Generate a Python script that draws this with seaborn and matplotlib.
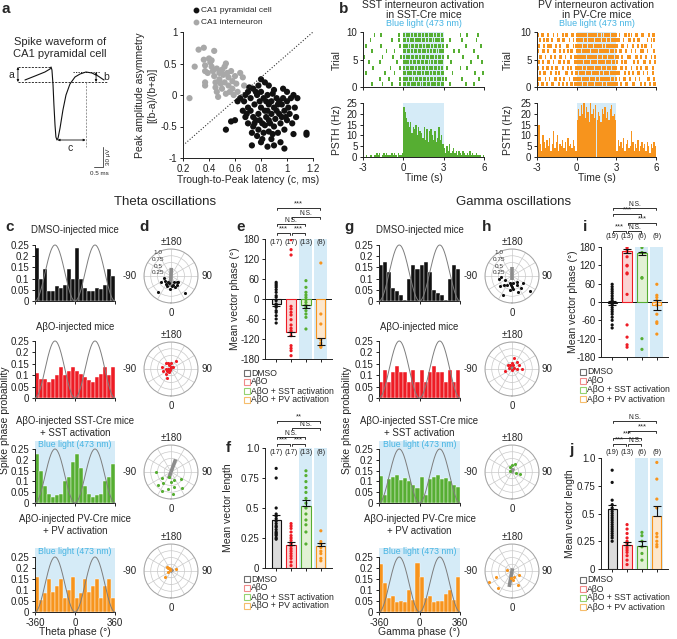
import numpy as np
import pandas as pd
import matplotlib
matplotlib.use("Agg")
import matplotlib.pyplot as plt
import matplotlib.lines as mlines
from matplotlib.transforms import blended_transform_factory
import seaborn as sns

# ---------------------------------------------------------------------
# datos
# ---------------------------------------------------------------------
# panel a: forma de onda (ms, uV)
WAVE_T = [-1.78, -1.22, -0.67, -0.39, -0.33, -0.28, -0.22, -0.17, -0.11, -0.06, 0.0,
          0.06, 0.17, 0.33, 0.5, 0.72, 1.0, 1.28, 1.61, 1.94, 2.28, 2.61]
WAVE_V = [3, 9, 15, 19.5, 22.5, 18, -4.5, -34.5, -64.5, -82.5, -87,
          -84, -69, -42, -19.5, -3, 7.5, 12, 15, 13.5, 9, 3]

# panel a: dispersion
INTER_X = [0.25, 0.29, 0.32, 0.36, 0.36, 0.37, 0.37, 0.37, 0.37, 0.40, 0.41, 0.42, 0.43, 0.44,
           0.44, 0.45, 0.45, 0.46, 0.46, 0.47, 0.48, 0.49, 0.50, 0.50, 0.51, 0.52, 0.52, 0.53,
           0.54, 0.55, 0.55, 0.56, 0.57, 0.58, 0.58, 0.59, 0.60, 0.61, 0.62, 0.64, 0.66, 0.67,
           0.42, 0.39, 0.48, 0.53]
INTER_Y = [-0.05, 0.45, 0.72, 0.75, 0.56, 0.47, 0.38, 0.20, 0.15, 0.58, 0.52, 0.45, 0.38, 0.70,
           0.30, 0.20, 0.12, 0.42, 0.05, -0.03, 0.25, 0.18, 0.40, 0.10, 0.32, 0.45, 0.20, 0.02,
           0.35, 0.15, 0.28, 0.05, 0.38, 0.22, 0.10, 0.00, 0.30, 0.18, 0.05, 0.35, 0.28, 0.15,
           0.55, 0.35, 0.35, 0.50]
PYR_X = [0.53, 0.57, 0.73, 0.80, 0.85, 0.90, 0.98, 1.15, 1.15, 1.05, 0.95, 0.88,
         0.80, 0.83, 0.78, 0.86, 0.97, 1.00, 0.74, 0.70, 0.68, 0.90, 1.05, 1.08, 1.06, 1.07,
         1.04, 1.00, 0.98, 0.93, 0.90, 0.86, 0.82, 0.78, 0.74, 0.70, 0.68, 0.66, 0.67, 0.72,
         0.75, 0.78, 0.76, 0.80, 0.82, 0.84, 0.86, 0.88, 0.90, 0.92, 0.94, 0.96, 0.98, 1.00,
         1.02, 0.72, 0.74, 0.77, 0.79, 0.81, 0.83, 0.85, 0.87, 0.89, 0.91, 0.93, 0.95, 0.97,
         0.99, 1.01, 1.03, 0.70, 0.69, 0.73, 0.77, 0.81, 0.84, 0.86, 0.88, 0.92, 0.94, 0.96,
         0.75, 0.79, 0.83, 0.85, 0.89, 0.80, 0.76, 0.71, 0.64, 0.62, 0.60]
PYR_Y = [-0.55, -0.42, -0.80, -0.75, -0.82, -0.80, -0.85, -0.60, -0.63, -0.62, -0.75, -0.70,
         0.25, 0.20, 0.15, 0.15, 0.10, 0.05, 0.10, 0.05, 0.00, 0.08, 0.00, -0.05, -0.20, -0.35,
         -0.45, -0.40, -0.55, -0.60, -0.50, -0.58, -0.60, -0.55, -0.50, -0.45, -0.35, -0.25,
         -0.10, -0.05, -0.15, -0.30, -0.40, -0.20, -0.05, -0.35, -0.15, -0.30, -0.20, -0.05,
         -0.30, -0.15, -0.25, -0.10, -0.30, -0.25, -0.35, 0.00, -0.10, -0.45, -0.25, 0.00,
         -0.45, 0.02, -0.38, -0.15, -0.45, -0.05, -0.35, -0.20, -0.05, -0.20, -0.30, -0.60,
         -0.65, -0.70, -0.10, -0.40, -0.10, -0.25, -0.10, -0.35, -0.45, -0.40, -0.48, -0.25,
         -0.62, 0.05, 0.05, 0.12, -0.05, -0.10, -0.40]
DIAG_X = [0.2, 1.2]
DIAG_Y = [-0.8, 1.0]

# panel b: raster (cada caracter = 0.1 s desde -3 s) y PSTH (Hz)
SST_RASTER = [
    "......|... ....|..... .|.....|.. ||.||.|||. ||.|.||.|| .|||.||.|| ....|..... ......|... ..|.......",
    ".......... ..|......| .......|.. |||.||.|.| |.||.||.|. ||.|.|||.| .|........ ...|...... ......|...",
    "..|....... ......|... ...|...... ||.|||.||. |||.|.|||. |.||.||.|| ......|... .......... ...|.....|",
    ".......|.. .......... |......|.. |.||.|||.| .||.||.|.| ||.||.|.|. ..|....... ..|....|.. ..........",
    "....|..... ..|....... .....|.... ||||.|.||. ||.||.||.| .|.||.|||. .....|.... .......... |.......|.",
    "|......... ....|..... ..|.....|. |.|||.||.| |.|.||.||. |||.|.||.| ...|...... ....|..... .....|....",
    "......|... .......|.. ...|...... ||.||.|.|| .||.|||.|. |.||.|.||| .......|.. .|........ ..|.......",
    "..|....... ...|...... .......|.. |||.|.||.| |.||.|.||| .|.||.||.| ..|....... ......|... .......|..",
    ".....|.... .......... .|....|... ||.|.|||.| |||.||.|.| |.|.|||.|| ....|..... ...|...... ....|.....",
    "........|. ...|...... ......|... |.|||.|.|| .||.|.||.| ||.|.||.|. .......... ..|....|.. .....|....",
]
PV_RASTER = [
    "|..||..|.. .||...|..| ..|..||.|. ||||.|||.| |||.|||||. ||.||||.|| |..|...||. ..||....|. .|...|..||",
    ".||...|..| ...||..|.. |...|..||. |||.|||||. ||||.||.|| |||||.||.| ..|..||... |...|..|.. ...||...|.",
    "..|..||... |...|.|... .||...|..| |.||||.||| |.|||||.|| .|||.||||| .||...|..| ..|...||.. |..|...|..",
    "|...|..||. .|..||...| ...|.|...| ||||.||.|| |||.||||.| ||.|||.||| ...||..|.. .|...|..|. ..||...|..",
    ".|..|...|| ..|...||.. |..||...|. |||||.|||| .||||.|||| |.||||.||. |...|.||.. ...|..|... ||...|...|",
    "..||..|... |..|...||. .|...|..|| ||.||||.|| |||||.|||. |||.||||.| .|..|...|| |...||..|. ..|...|..|",
    "|...||..|. ..||...|.. |..|.||... |||.|||||| .|||||.||| ||||.|||.| ..||...|.. .|..|...|| |..|....|.",
    ".|...|..|| |...|..|.. ..||...|.| ||||.|||.| ||.||||||. |.|||||.|| |...||..|. ..|...|..| .||...|...",
    "..|..|.||. .|...||..| |...|..|.. |||||.||.| |||.||||.| ||.||.|||| .||..|...| |..|..||.. ...|..|.|.",
    "|..||...|. ..|..|...| .||...||.. ||.|||||.| |||||.||.| .||||.|||| ..|...||.| .|..||...| |...|..||.",
]
SST_PSTH = [0, 0, 1, 0, 0, 1, 1, 0, 1, 1, 2, 1, 2, 0, 1, 2, 1, 2, 1, 1, 1, 2, 1, 2, 1, 0, 2, 1, 1, 2,
            23, 21, 18, 16, 14, 16, 11, 14, 13, 15, 10, 14, 12, 11, 9, 14, 8, 13, 7, 12,
            13, 10, 8, 12, 7, 9, 14, 8, 10, 6,
            4, 2, 5, 3, 6, 2, 3, 4, 2, 3, 1, 3, 2, 1, 3, 2, 1, 2, 1, 3, 1, 2, 1, 1, 2, 1, 1, 1, 0, 1]
PV_PSTH = [5, 15, 6, 3, 10, 7, 4, 8, 5, 9, 3, 6, 12, 4, 7, 10, 3, 6, 5, 8, 4, 7, 3, 9, 5, 6, 4, 8, 5, 3,
           17, 22, 19, 24, 20, 25, 18, 23, 21, 16, 25, 20, 22, 18, 24, 17, 21, 19, 16, 22,
           20, 23, 18, 21, 17, 22, 24, 19, 20, 17,
           3, 8, 5, 7, 4, 9, 3, 6, 8, 4, 5, 12, 7, 3, 6, 4, 8, 3, 5, 7, 4, 6, 3, 7, 5, 2, 6, 4, 7, 5]

# paneles c/g: probabilidad de fase (20 bins de 36 grados, -360..360)
THETA_HIST = [
    [0.235, 0.10, 0.145, 0.045, 0.045, 0.065, 0.06, 0.07, 0.145, 0.10,
     0.235, 0.10, 0.06, 0.045, 0.045, 0.06, 0.055, 0.07, 0.145, 0.11],
    [0.11, 0.085, 0.085, 0.07, 0.085, 0.10, 0.135, 0.10, 0.12, 0.135,
     0.12, 0.105, 0.09, 0.08, 0.07, 0.09, 0.105, 0.135, 0.10, 0.135],
    [0.225, 0.15, 0.08, 0.04, 0.03, 0.035, 0.04, 0.10, 0.12, 0.19,
     0.225, 0.16, 0.08, 0.04, 0.03, 0.035, 0.04, 0.10, 0.12, 0.18],
    [0.16, 0.055, 0.085, 0.15, 0.09, 0.12, 0.15, 0.065, 0.10, 0.16,
     0.065, 0.085, 0.15, 0.09, 0.12, 0.15, 0.065, 0.12, 0.15, 0.065],
]
GAMMA_HIST = [
    [0.16, 0.175, 0.13, 0.06, 0.045, 0.025, 0.005, 0.10, 0.16, 0.145,
     0.16, 0.175, 0.13, 0.05, 0.035, 0.025, 0.005, 0.10, 0.16, 0.145],
    [0.07, 0.125, 0.07, 0.115, 0.14, 0.115, 0.115, 0.07, 0.125, 0.07,
     0.125, 0.07, 0.115, 0.14, 0.115, 0.115, 0.07, 0.125, 0.07, 0.125],
    [0.125, 0.035, 0.11, 0.12, 0.13, 0.105, 0.115, 0.10, 0.085, 0.07,
     0.12, 0.035, 0.11, 0.12, 0.13, 0.11, 0.115, 0.10, 0.085, 0.075],
    [0.22, 0.13, 0.065, 0.075, 0.045, 0.05, 0.045, 0.10, 0.055, 0.225,
     0.16, 0.065, 0.075, 0.045, 0.05, 0.05, 0.08, 0.10, 0.055, 0.16],
]

# paneles d-f: theta, fase (grados) y longitud del vector por neurona
THETA_PHASE = [
    [50, 45, 40, 35, 28, 20, 10, 5, -5, -15, -20, -25, -35, -40, -50, -60, -72],
    [178, 148, 132, -22, -40, -48, -62, -78, -88, -100, -110, -140, -148, -155, -170, -95, -30],
    [55, 35, 20, 12, 5, -2, -10, -18, -25, -35, -45, -55, -90],
    [108, -45, -75, -122, -132, -138, -142, -145],
]
THETA_LEN = [
    [0.35, 0.29, 0.83, 0.41, 0.25, 0.45, 0.32, 0.37, 0.50, 0.27, 0.39, 0.24, 0.34, 0.75, 0.30, 0.43, 0.28],
    [0.21, 0.33, 0.12, 0.37, 0.05, 0.25, 0.18, 0.30, 0.10, 0.35, 0.02, 0.27, 0.16, 0.23, 0.08, 0.20, 0.14],
    [0.45, 0.72, 0.30, 0.58, 0.81, 0.36, 0.63, 0.20, 0.77, 0.50, 0.67, 0.40, 0.54],
    [0.20, 0.31, 0.12, 0.06, 0.22, 0.17, 0.08, 0.14],
]
THETA_PHASE_MEAN = [-15, -98, -18, -118]
THETA_PHASE_ERR = [[7, 12, 10, 20], [0, 0, 0, 0]]
THETA_LEN_MEAN = [0.40, 0.19, 0.52, 0.18]
THETA_LEN_ERR = [[0, 0, 0, 0], [0.04, 0.025, 0.05, 0.03]]
THETA_GRAY = [(178, 0.30, 0.40), (150, 0.12, 0.05), (160, 0.50, 0.25), (130, 0.10, 0.05)]

# paneles h-j: gamma
GAMMA_PHASE = [
    [58, 50, 42, 35, 28, 20, 12, 5, 0, -5, -10, -18, -25, -32, -40, -50, -60, -75, -85],
    [178, 172, 165, 148, 120, 118, 95, 92, 25, -75, -115, -140, -148],
    [178, 162, 80, 78, -120, -155],
    [58, 22, 15, 5, -10, -40, -65, -70, -105],
]
GAMMA_LEN = [
    [0.46, 0.89, 0.30, 0.55, 0.36, 0.62, 0.25, 0.48, 0.40, 0.34, 0.52, 0.28, 0.78, 0.38, 0.44, 0.58, 0.32, 0.50, 0.42],
    [0.23, 0.40, 0.15, 0.32, 0.08, 0.28, 0.19, 0.36, 0.04, 0.25, 0.12, 0.21, 0.17],
    [0.25, 0.33, 0.14, 0.30, 0.08, 0.20],
    [0.29, 0.55, 0.22, 0.32, 0.25, 0.81, 0.96, 0.63, 0.20],
]
GAMMA_PHASE_MEAN = [-3, 168, 160, -10]
GAMMA_PHASE_ERR = [[7, 6, 5, 15], [7, 6, 5, 15]]
GAMMA_LEN_MEAN = [0.54, 0.22, 0.21, 0.48]
GAMMA_LEN_ERR = [[0, 0, 0, 0], [0.04, 0.025, 0.04, 0.09]]
GAMMA_GRAY = [(180, 0.35, 0.15), (180, 0.12, 0.05), (160, 0.15, 0.05), (-10, 0.60, 0.10)]

GROUPS = ["DMSO", "AβO", "AβO + SST activation", "AβO + PV activation"]
THETA_N = ["(17)", "(17)", "(13)", "(8)"]
GAMMA_N = ["(19)", "(13)", "(6)", "(9)"]

# ---------------------------------------------------------------------
# estilo
# ---------------------------------------------------------------------
NEGRO = "#111111"
ROJO = "#ee1c25"
VERDE = "#56ae32"
NARANJA = "#f7941d"
GRIS_PUNTO = "#a8a8a8"
AZUL_CLARO = "#d5ebf7"
AZUL_TEXTO = "#45b4e3"
COLORES = [NEGRO, ROJO, VERDE, NARANJA]
RELLENOS = ["#dcdcdc", "#fbd3d3", "#e2f1d5", "#fde7cc"]
BORDES_LEYENDA = ["#6e6e6e", "#f08a8a", "#94d270", "#f6bd6c"]

sns.set_theme(style="ticks")
plt.rcParams["font.family"] = ["Liberation Sans", "DejaVu Sans"]
plt.rcParams.update({
    "font.size": 7, "axes.linewidth": 0.7, "axes.edgecolor": "#222222",
    "xtick.major.width": 0.7, "ytick.major.width": 0.7,
    "xtick.major.size": 2.5, "ytick.major.size": 2.5,
    "xtick.labelsize": 7, "ytick.labelsize": 7,
    "xtick.major.pad": 1.5, "ytick.major.pad": 1.5,
    "xtick.color": "#222222", "ytick.color": "#222222",
})

W, H = 677, 639
fig = plt.figure(figsize=(W / 100, H / 100), dpi=100)


def ax_px(l, t, r, b, **kw):
    return fig.add_axes([l / W, 1 - b / H, (r - l) / W, (b - t) / H], **kw)


def txt(x, y, s, **kw):
    kw.setdefault("ha", "center")
    kw.setdefault("va", "center")
    fig.text(x / W, 1 - y / H, s, **kw)


def letra(x, y, s):
    txt(x, y, s, ha="left", fontsize=11, fontweight="bold")


def limpiar(ax):
    ax.set_xlabel("")
    ax.set_ylabel("")
    sns.despine(ax=ax)


def histograma(ax, centros, bordes, valores, color, lw=0.0):
    tabla = pd.DataFrame({"x": list(centros), "w": list(valores)})
    sns.histplot(data=tabla, x="x", weights="w", bins=[float(b) for b in bordes], color=color,
                 alpha=1, edgecolor="white", linewidth=lw, ax=ax, zorder=2)


# ---------------------------------------------------------------------
# panel a
# ---------------------------------------------------------------------
letra(2, 9, "a")
txt(60, 48, "Spike waveform of\nCA1 pyramidal cell", fontsize=8, linespacing=1.2)
ax = ax_px(10, 35, 120, 180)
ax.set_xlim(-2.61, 3.5)
ax.set_ylim(-147, 70.5)
ax.axis("off")
ax.plot(WAVE_T, WAVE_V, color=NEGRO, lw=0.8)
ax.plot([-2.17, 2.8], [0, 0], ls="--", color=NEGRO, lw=0.6, dashes=(2.5, 1.5))
ax.plot([-2.17, -0.33], [22.5, 22.5], ls="--", color=NEGRO, lw=0.6, dashes=(2.5, 1.5))
ax.plot([0.9, 2.4], [15, 15], ls="--", color=NEGRO, lw=0.6, dashes=(1.5, 1.5))
ax.plot([1.61, 1.61], [0, -97], ls="--", color="#888888", lw=0.6, dashes=(2.5, 1.5))
flecha = dict(arrowstyle="<|-|>", lw=0.6, color=NEGRO, mutation_scale=3, shrinkA=0, shrinkB=0)
ax.annotate("", xy=(-2.17, 22.5), xytext=(-2.17, 0), arrowprops=flecha)
ax.annotate("", xy=(2.17, 15), xytext=(2.17, 0), arrowprops=flecha)
ax.annotate("", xy=(0.03, -87), xytext=(1.59, -87), arrowprops=flecha)
ax.text(-2.55, 11, "a", fontsize=7.5, ha="center", va="center")
ax.text(2.72, 7, "b", fontsize=7.5, ha="center", va="center")
ax.text(0.75, -99, "c", fontsize=7.5, ha="center", va="center")
ax.plot([2.06, 2.56, 2.56], [-127.5, -127.5, -97.5], color="#555555", lw=0.7)
ax.text(2.85, -112, "30 μV", rotation=90, fontsize=4.5, ha="center", va="center")
ax.text(2.35, -133, "0.5 ms", fontsize=4.5, ha="center", va="top")

ax = ax_px(183, 32, 313, 158)
sns.scatterplot(x=INTER_X, y=INTER_Y, color=GRIS_PUNTO, s=20, edgecolor="none", ax=ax)
sns.scatterplot(x=PYR_X, y=PYR_Y, color=NEGRO, s=20, edgecolor="none", ax=ax)
ax.plot(DIAG_X, DIAG_Y, ls=":", color="#333333", lw=0.8)
ax.set_xlim(0.2, 1.2)
ax.set_ylim(-1, 1)
ax.set_xticks([0.2, 0.4, 0.6, 0.8, 1.0, 1.2], ["0.2", "0.4", "0.6", "0.8", "1", "1.2"])
ax.set_yticks([-1, -0.5, 0, 0.5, 1], ["-1", "-0.5", "0", "0.5", "1"])
limpiar(ax)
txt(248, 180, "Trough-to-Peak latency (c, ms)", fontsize=7.5)
txt(146, 95, "Peak amplitude asymmetry\n[(b-a)/(b+a)]", fontsize=7.5, rotation=90, linespacing=1.2)
for k, (lab, col) in enumerate([("CA1 pyramidal cell", NEGRO), ("CA1 interneuron", GRIS_PUNTO)]):
    yy = 10 + 12 * k
    fig.add_artist(mlines.Line2D([196 / W], [1 - yy / H], marker="o", ms=3.2, color=col,
                                 ls="none", transform=fig.transFigure))
    txt(201, yy, lab, ha="left", fontsize=6)

# ---------------------------------------------------------------------
# panel b
# ---------------------------------------------------------------------
letra(339, 9, "b")
PSTH_EDGES = np.round(np.arange(-3, 6.05, 0.1), 2)
PSTH_CENTERS = PSTH_EDGES[:-1] + 0.05


def dibujar_raster(l, r, raster, psth, color, titulo, ylab_x):
    cx = (l + r) / 2
    txt(cx, 10, titulo, fontsize=7.5, linespacing=1.05)
    txt(l + (r - l) * 4.5 / 9, 24, "Blue light (473 nm)", fontsize=6.5, color=AZUL_TEXTO)
    ax = ax_px(l, 32, r, 87)
    ax.axvspan(0, 3, color=AZUL_CLARO, lw=0, zorder=0)
    for fila, s in enumerate(raster):
        s = s.replace(" ", "")[:90].ljust(90, ".")
        xs = [PSTH_CENTERS[k] for k, c in enumerate(s) if c == "|"]
        ax.bar(xs, 0.75, bottom=fila + 0.12, width=0.13, color=color, lw=0, zorder=2)
    ax.set_xlim(-3, 6)
    ax.set_ylim(0, 10)
    ax.set_xticks([-3, 0, 3, 6], [])
    ax.set_yticks([0, 5, 10])
    limpiar(ax)
    ax2 = ax_px(l, 103, r, 157)
    ax2.axvspan(0, 3, color=AZUL_CLARO, lw=0, zorder=0)
    histograma(ax2, PSTH_CENTERS, PSTH_EDGES, psth, color)
    ax2.set_xlim(-3, 6)
    ax2.set_ylim(0, 25)
    ax2.set_xticks([-3, 0, 3, 6], ["-3", "0", "3", "6"])
    ax2.set_yticks([0, 5, 10, 15, 20, 25])
    limpiar(ax2)
    txt(cx, 178, "Time (s)", fontsize=7.5)
    txt(ylab_x, 60, "Trial", fontsize=7.5, rotation=90)
    txt(ylab_x, 130, "PSTH (Hz)", fontsize=7.5, rotation=90)


dibujar_raster(363, 484, SST_RASTER, SST_PSTH, VERDE,
               "SST interneuron activation\nin SST-Cre mice", 337)
dibujar_raster(537, 656, PV_RASTER, PV_PSTH, NARANJA,
               "PV interneuron activation\nin PV-Cre mice", 508)

txt(165, 202, "Theta oscillations", fontsize=9.5)
txt(514, 202, "Gamma oscillations", fontsize=9.5)

# ---------------------------------------------------------------------
# paneles c / g : histogramas de fase
# ---------------------------------------------------------------------
PHASE_EDGES = np.arange(-360, 361, 36)
PHASE_CENTERS = PHASE_EDGES[:-1] + 18
SINE_X = np.linspace(-360, 360, 241)
SINE_Y = 0.125 * (1 - np.cos(np.radians(SINE_X)))
FILAS = [(245, 301, 245), (341, 398, 341), (449, 503, 441), (557, 612, 548)]
TITULOS = [("DMSO-injected mice", 230), ("AβO-injected mice", 327),
           ("AβO-injected SST-Cre mice\n+ SST activation", 427),
           ("AβO-injected PV-Cre mice\n+ PV activation", 525)]


def dibujar_hist(l, r, datos, xlabel):
    cx = (l + r) / 2
    for k, ((p25, p0, ptop), vals) in enumerate(zip(FILAS, datos)):
        titulo, ty = TITULOS[k]
        txt(cx, ty, titulo, fontsize=6.9, linespacing=1.15)
        ax = ax_px(l, ptop, r, p0)
        top = 0.25 * (p0 - ptop) / (p0 - p25)
        sombreado = k >= 2
        if sombreado:
            ax.set_facecolor(AZUL_CLARO)
        histograma(ax, PHASE_CENTERS, PHASE_EDGES, vals, COLORES[k], lw=0.3)
        ax.plot(SINE_X, SINE_Y, color="#7d7d7d", lw=0.7, clip_on=False, zorder=3)
        ax.set_xlim(-360, 360)
        ax.set_ylim(0, top)
        ax.set_yticks([0, 0.05, 0.1, 0.15, 0.2, 0.25], ["0", "0.05", "0.1", "0.15", "0.2", "0.25"])
        if k == 3:
            ax.set_xticks([-360, 0, 360], ["-360", "0", "360"])
        else:
            ax.set_xticks([-360, 0, 360], [])
        limpiar(ax)
        ax.spines["left"].set_bounds(0, 0.25)
        if sombreado:
            ax.text(0, 0.25 * (p0 - ptop - 3.5) / (p0 - p25), "Blue light (473 nm)",
                    fontsize=6.3, color=AZUL_TEXTO, ha="center", va="center")
    txt(cx, 632, xlabel, fontsize=7.5)


dibujar_hist(35, 115, THETA_HIST, "Theta phase (°)")
dibujar_hist(379, 460, GAMMA_HIST, "Gamma phase (°)")
txt(5, 420, "Spike phase probability", fontsize=7.5, rotation=90)
txt(347, 420, "Spike phase probability", fontsize=7.5, rotation=90)

# ---------------------------------------------------------------------
# paneles d / h : polares
# ---------------------------------------------------------------------
CENTROS_Y = [276, 369, 472, 571]
RADIO = 27


def dibujar_polares(cx, fases, longitudes, grises):
    for k, cy in enumerate(CENTROS_Y):
        ax = fig.add_axes([(cx - RADIO) / W, 1 - (cy + RADIO) / H, 2 * RADIO / W, 2 * RADIO / H],
                          projection="polar")
        ax.set_theta_zero_location("S")
        ax.set_theta_direction(1)
        ax.set_facecolor("white")
        ang, rf, rb = grises[k]
        ax.plot([np.radians(ang)] * 2, [0, rf], color="#8c8c8c", lw=2.6, solid_capstyle="butt", zorder=2)
        ax.plot([np.radians(ang + 180)] * 2, [0, rb], color="#8c8c8c", lw=2.6, solid_capstyle="butt", zorder=2)
        ax.scatter(np.radians(fases[k]), longitudes[k], s=5, color=COLORES[k], zorder=3, lw=0)
        ax.set_ylim(0, 1)
        ax.set_thetagrids(np.arange(0, 360, 30), [""] * 12)
        ax.set_rgrids([0.25, 0.5, 0.75, 1.0], [""] * 4)
        ax.grid(True, color="#c9c9c9", lw=0.5)
        ax.spines["polar"].set_color("#a5a5a5")
        ax.spines["polar"].set_linewidth(0.7)
        txt(cx, cy - RADIO - 7, "±180", fontsize=7)
        txt(cx, cy + RADIO + 10, "0", fontsize=7)
        txt(cx - RADIO - 7, cy, "-90", fontsize=7, ha="right")
        txt(cx + RADIO + 3, cy, "90", fontsize=7, ha="left")
        if k == 0:
            for etiqueta, rv in [("1.0", 1.0), ("0.75", 0.75), ("0.5", 0.5), ("0.25", 0.25)]:
                txt(cx - 13, cy - RADIO * rv + 3.5, etiqueta, fontsize=4.6, color="#333333")


dibujar_polares(171, THETA_PHASE, THETA_LEN, THETA_GRAY)
dibujar_polares(512, GAMMA_PHASE, GAMMA_LEN, GAMMA_GRAY)
letra(5, 227, "c")
letra(139, 227, "d")
letra(236, 227, "e")
letra(226, 448, "f")
letra(344, 227, "g")
letra(482, 227, "h")
letra(583, 227, "i")
letra(569, 450, "j")

# ---------------------------------------------------------------------
# paneles e / f / i / j : barras
# ---------------------------------------------------------------------


def corchete(ax, x0, x1, py, etiqueta):
    tr = blended_transform_factory(ax.transData, fig.transFigure)
    y = 1 - py / H
    d = 2 / H
    ax.add_line(mlines.Line2D([x0 + 0.05, x0 + 0.05, x1 - 0.05, x1 - 0.05], [y - d, y, y, y - d],
                              transform=tr, color=NEGRO, lw=0.6, clip_on=False))
    fs = 5.5 if etiqueta.startswith("*") else 4.8
    ax.text((x0 + x1) / 2, y + 0.3 / H, etiqueta, transform=tr, ha="center", va="bottom",
            fontsize=fs, clip_on=False)


def dibujar_barras(l, t, r, b, puntos, medias, err, ylim, yticks, ylabels, cero,
                   n_labels, n_y, corchetes, ylab, ylab_x, leyenda_y):
    ax = ax_px(l, t, r, b)
    sns.barplot(x=GROUPS, y=medias, color="white", errorbar=None, width=0.62, ax=ax)
    for p, fc, ec in zip(ax.patches, RELLENOS, COLORES):
        p.set_facecolor(fc)
        p.set_edgecolor(ec)
        p.set_linewidth(0.8)
        p.set_zorder(2)
    for xc in (2, 3):
        ax.axvspan(xc - 0.44, xc + 0.44, color=AZUL_CLARO, lw=0, zorder=0)
    df = pd.DataFrame({"g": [GROUPS[k] for k in range(4) for _ in puntos[k]],
                       "v": [v for k in range(4) for v in puntos[k]]})
    sns.stripplot(data=df, x="g", y="v", hue="g", order=GROUPS, hue_order=GROUPS,
                  palette=COLORES, jitter=False, size=2.3, linewidth=0, legend=False,
                  ax=ax, zorder=3)
    ax.errorbar(range(4), medias, yerr=err, fmt="none", ecolor=NEGRO, elinewidth=0.8,
                capsize=3, capthick=0.8, zorder=4)
    if cero:
        ax.axhline(0, color=NEGRO, lw=0.7, zorder=1)
    ax.set_xlim(-0.75, 3.75)
    ax.set_ylim(*ylim)
    ax.set_xticks(range(4), [])
    ax.set_yticks(yticks, ylabels)
    limpiar(ax)
    tr = blended_transform_factory(ax.transData, fig.transFigure)
    for k, s in enumerate(n_labels):
        ax.text(k, 1 - n_y / H, s, transform=tr, ha="center", va="center", fontsize=5.3, clip_on=False)
    for x0, x1, py, et in corchetes:
        corchete(ax, x0, x1, py, et)
    txt(ylab_x, (t + b) / 2, ylab, fontsize=7.5, rotation=90)
    for k, nombre in enumerate(GROUPS):
        yy = leyenda_y + 9 * k
        fig.add_artist(mlines.Line2D([(l - 18) / W], [1 - yy / H], marker="s", ms=3.8, mfc="white",
                                     mec=BORDES_LEYENDA[k], mew=0.8, ls="none",
                                     transform=fig.transFigure))
        txt(l - 14, yy, nombre, ha="left", fontsize=6.2)


FASE_TICKS = [-180, -120, -60, 0, 60, 120, 180]
FASE_LABELS = ["-180", "-120", "-60", "0", "60", "120", "180"]
LONG_TICKS = [0, 0.25, 0.5, 0.75, 1.0]
LONG_LABELS = ["0", "0.25", "0.5", "0.75", "1.0"]

dibujar_barras(265, 239, 332, 359, THETA_PHASE, THETA_PHASE_MEAN, THETA_PHASE_ERR,
               (-180, 180), FASE_TICKS, FASE_LABELS, True, THETA_N, 243,
               [(0, 1, 233, "***"), (1, 2, 233, "***"), (0, 2, 224, "N.S."),
                (1, 3, 217, "N.S."), (0, 3, 208, "***")],
               "Mean vector phase (°)", 235, 373)
dibujar_barras(265, 448, 332, 568, THETA_LEN, THETA_LEN_MEAN, THETA_LEN_ERR,
               (0, 1), LONG_TICKS, LONG_LABELS, False, THETA_N, 452,
               [(0, 1, 444, "***"), (1, 2, 444, "***"), (0, 2, 437, "N.S."),
                (1, 3, 428, "N.S."), (0, 3, 421, "**")],
               "Mean vector length", 228, 579)
dibujar_barras(601, 247, 668, 357, GAMMA_PHASE, GAMMA_PHASE_MEAN, GAMMA_PHASE_ERR,
               (-180, 180), FASE_TICKS, FASE_LABELS, True, GAMMA_N, 236,
               [(0, 1, 231, "***"), (1, 2, 231, "N.S."), (1, 3, 223, "***"),
                (0, 2, 214, "***"), (0, 3, 208, "N.S.")],
               "Mean vector phase (°)", 573, 372)
dibujar_barras(601, 458, 668, 569, GAMMA_LEN, GAMMA_LEN_MEAN, GAMMA_LEN_ERR,
               (0, 1), LONG_TICKS, LONG_LABELS, False, GAMMA_N, 453,
               [(0, 1, 444, "***"), (1, 2, 444, "N.S."), (0, 2, 438, "***"),
                (1, 3, 431, "***"), (0, 3, 421, "N.S.")],
               "Mean vector length", 570, 580)

fig.savefig("out.png", dpi=100)
